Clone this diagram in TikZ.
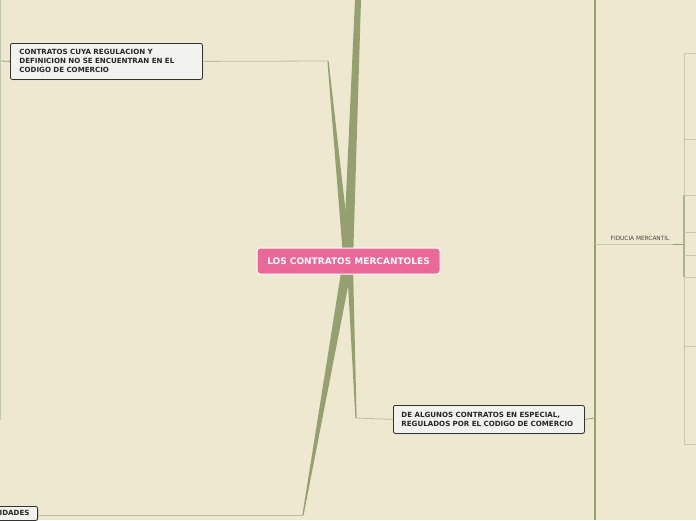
\documentclass[tikz,border=0pt]{standalone}
\usepackage{fontspec}
\setmainfont{DejaVu Sans}
\usetikzlibrary{positioning, calc, shadows}
\definecolor{paper}{RGB}{239,232,209}
\definecolor{stem}{RGB}{148,160,112}
\definecolor{rootpink}{RGB}{235,105,152}
\definecolor{boxgrey}{RGB}{242,242,240}
\definecolor{thinline}{RGB}{192,190,162}
\definecolor{leafline}{RGB}{200,200,170}

\begin{document}
\begin{tikzpicture}[x=1pt, y=-1pt,
    rootbox/.style={fill=rootpink, draw=white, line width=1pt, rounded corners=3pt,
        text=white, font=\fontsize{9}{11}\selectfont\bfseries,
        minimum width=183pt, minimum height=26pt},
    topicbox/.style={fill=boxgrey, draw=black!80, line width=0.8pt, rounded corners=2pt,
        drop shadow={shadow xshift=0.8pt, shadow yshift=-0.8pt, opacity=0.35},
        font=\fontsize{7.1}{9}\selectfont\bfseries, text=black!85, align=left,
        inner ysep=3pt},
    twig/.style={draw=thinline, line width=0.8pt},
    vine/.style={draw=stem, line width=1.5pt},
    leaf/.style={draw=leafline, line width=1pt},
    tiny/.style={font=\fontsize{5.8}{7}\selectfont, text=black!75, inner sep=1pt}]

    % background
    \fill[paper] (0,0) rectangle (696,520);
    \useasboundingbox (0,0) rectangle (696,520);
    \clip (0,0) rectangle (696,520);

    % Coordinates
    \coordinate (top) at (358,0);
    \coordinate (elbowA) at (328,61);
    \coordinate (elbowB) at (356,418);
    \coordinate (elbowC) at (303,515);
    \coordinate (edgeL) at (0.5,61);
    \coordinate (railT) at (595,0);
    \coordinate (railB) at (595,520);
    \coordinate (railB1) at (595,418);
    \coordinate (fidL) at (595,244);
    \coordinate (fidR) at (684,244);
    \coordinate (fidK) at (673,244);

    % Nodes
    \node[topicbox, anchor=north west, minimum width=192pt, minimum height=36pt,
        text width=174pt, inner xsep=9pt] (regul) at (10,43)
        {CONTRATOS CUYA REGULACION Y\\DEFINICION NO SE ENCUENTRAN EN EL\\CODIGO DE COMERCIO};
    \node[topicbox, anchor=north west, minimum width=191pt, minimum height=28pt,
        text width=175pt, inner xsep=8pt] (especial) at (393,405)
        {DE ALGUNOS CONTRATOS EN ESPECIAL,\\REGULADOS POR EL CODIGO DE COMERCIO};
    \node[topicbox, anchor=north east, minimum height=14pt, inner ysep=1pt, inner xsep=8pt] (activ) at (38,506)
        {IDADES};
    \node[tiny, anchor=south] (fiducia) at (640,242) {FIDUCIA MERCANTIL};

    % Edges
    \fill[stem] (343,262) -- (353,262) -- (361,0) -- (355,0) -- cycle;
    \fill[stem] (343,256) -- (350,250) -- ($(elbowA)+(0.6,0)$) -- ($(elbowA)+(-0.6,0)$) -- cycle;
    \fill[stem] (347,266) -- (353,266) -- ($(elbowB)+(0.6,0)$) -- ($(elbowB)+(-0.6,0)$) -- cycle;
    \fill[stem] (342,266) -- (352,266) -- ($(elbowC)+(0.6,0)$) -- ($(elbowC)+(-0.6,0)$) -- cycle;

    \draw[twig] (regul.east) -- (elbowA);
    \draw[twig] (especial.west) -- (elbowB);
    \draw[twig] (activ.east |- elbowC) -- (elbowC);
    \draw[draw=stem, line width=0.8pt] (regul.west) -- (edgeL);
    \draw[draw=stem!60, line width=0.8pt] (0.5,0) -- (0.5,420);

    \draw[vine] (railT) -- (railB);
    \draw[draw=stem, line width=0.8pt] (especial.east) -- (railB1);
    \draw[leaf] (fidL) -- (fidK);
    \draw[draw=stem, line width=1pt] (fidK) -- (fidR);

    % bracket of FIDUCIA MERCANTIL
    \draw[leaf] (684,53) -- (684,444);
    \draw[draw=stem!80, line width=1.2pt] (684,195) -- (684,277);
    \foreach \ty in {53,139,195,232,255,277,346,444}
        \draw[leaf] (684,\ty) -- (696,\ty);

    % root last, over the stems
    \node[rootbox] (root) at (348.5,261) {LOS CONTRATOS MERCANTOLES};

\end{tikzpicture}
\end{document}
